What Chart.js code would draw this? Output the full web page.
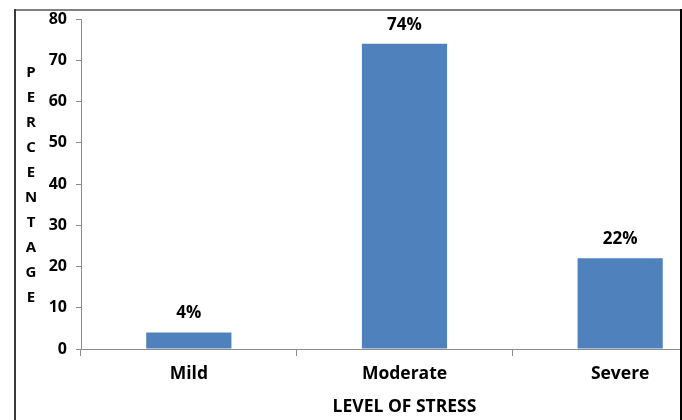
<!DOCTYPE html>
<html>
<head>
<meta charset="utf-8">
<script src="https://cdn.jsdelivr.net/npm/chart.js@4/dist/chart.umd.min.js"></script>
<style>
  html, body { margin: 0; padding: 0; background: #fff; overflow: hidden; width: 682px; height: 420px; }
  #frame { position: absolute; left: 0; top: 0; width: 682px; height: 420px; overflow: hidden; }
  #wrap { position: absolute; left: 0; top: 0; width: 740px; height: 420px; }
  .edge { position: absolute; }
  #edgeTop { left: 14px; top: 9px; width: 668px; height: 2px; background: #808080; }
  #edgeLeft { left: 14px; top: 9px; width: 2px; height: 411px; background: #3a3a3a; }
  #edgeRight { left: 680px; top: 9px; width: 2px; height: 411px; background: #000; }
</style>
</head>
<body>
<div id="frame">
  <div id="wrap"><canvas id="chart" width="740" height="420"></canvas></div>
  <div class="edge" id="edgeTop"></div>
  <div class="edge" id="edgeLeft"></div>
  <div class="edge" id="edgeRight"></div>
</div>
<script>
// Stress level distribution
const categories = ['Mild', 'Moderate', 'Severe'];
const percentages = [4, 74, 22];
const yTicks = [0, 10, 20, 30, 40, 50, 60, 70, 80];
const yTitleLetters = ['P', 'E', 'R', 'C', 'E', 'N', 'T', 'A', 'G', 'E'];
const xTitle = 'LEVEL OF STRESS';

const FONT = '"Open Sans", Lato, sans-serif';
const AXIS_GREY = '#8c8c8c';

// Value labels above each bar
const valueLabels = {
  id: 'valueLabels',
  afterDatasetsDraw(chart) {
    const ctx = chart.ctx;
    const meta = chart.getDatasetMeta(0);
    ctx.save();
    ctx.font = 'bold 17px ' + FONT;
    ctx.fillStyle = '#000';
    ctx.textAlign = 'center';
    ctx.textBaseline = 'middle';
    meta.data.forEach((bar, i) => {
      ctx.fillText(percentages[i] + '%', bar.x, bar.y - 19);
    });
    ctx.restore();
  }
};

// Vertical stacked-letter title for the value axis
const stackedYTitle = {
  id: 'stackedYTitle',
  afterDraw(chart) {
    const ctx = chart.ctx;
    ctx.save();
    ctx.font = 'bold 15px ' + FONT;
    ctx.fillStyle = '#000';
    ctx.textAlign = 'center';
    ctx.textBaseline = 'middle';
    yTitleLetters.forEach((ch, i) => {
      ctx.fillText(ch, 31, 73 + i * 25);
    });
    ctx.restore();
  }
};

new Chart(document.getElementById('chart'), {
  type: 'bar',
  data: {
    labels: categories,
    datasets: [{
      data: percentages,
      backgroundColor: '#4f81bd',
      borderWidth: 0,
      categoryPercentage: 0.395,
      barPercentage: 1.0
    }]
  },
  options: {
    responsive: false,
    animation: false,
    layout: { padding: { top: 19, left: 0, right: 12, bottom: 0 } },
    plugins: {
      legend: { display: false },
      tooltip: { enabled: false }
    },
    scales: {
      x: {
        grid: {
          display: true,
          drawOnChartArea: false,
          drawTicks: true,
          tickLength: 7,
          color: AXIS_GREY,
          offset: true
        },
        border: { display: true, color: AXIS_GREY, width: 1 },
        ticks: {
          color: '#000',
          padding: 8,
          font: { family: FONT, size: 17.5, weight: 'bold' }
        },
        title: {
          display: true,
          text: xTitle,
          color: '#000',
          font: { family: FONT, size: 17.5, weight: 'bold' },
          padding: { top: 0, bottom: 2 }
        },
        afterFit(scale) { scale.height = 71; }
      },
      y: {
        min: 0,
        max: 80,
        afterBuildTicks(scale) { scale.ticks = yTicks.map(v => ({ value: v })); },
        grid: {
          display: true,
          drawOnChartArea: false,
          drawTicks: true,
          tickLength: 5,
          color: AXIS_GREY
        },
        border: { display: true, color: AXIS_GREY, width: 1 },
        ticks: {
          color: '#000',
          padding: 9,
          font: { family: FONT, size: 16, weight: 'bold' }
        },
        afterFit(scale) { scale.width = 81; }
      }
    }
  },
  plugins: [valueLabels, stackedYTitle]
});
</script>
</body>
</html>
